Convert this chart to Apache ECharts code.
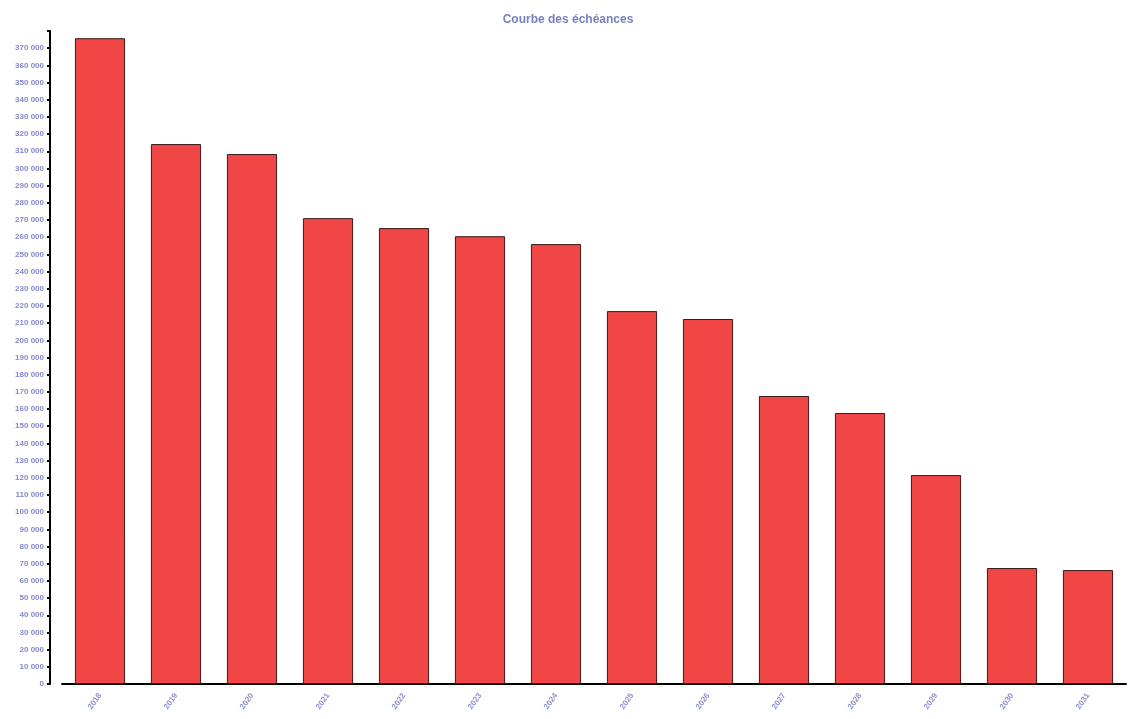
<!DOCTYPE html>
<html>
<head>
<meta charset="utf-8">
<style>html,body{margin:0;padding:0;background:#fff;}#c{width:1136px;height:719px;}</style>
<script src="https://cdn.jsdelivr.net/npm/echarts@6/dist/echarts.min.js"></script>
</head>
<body>
<div id="c"></div>
<script>
var titleText = 'Courbe des échéances';
var categories = ['2018','2019','2020','2021','2022','2023','2024','2025','2026','2027','2028','2029','2030','2031'];
var values = [375800, 314200, 308400, 271100, 265300, 260600, 256000, 217000, 212400, 167600, 157700, 121600, 67500, 66300];
var yMax = 380000;
var yStep = 10000;

function fmt(v){
  if (v >= yMax) return '';
  var s = String(v);
  return s.replace(/\B(?=(\d{3})+(?!\d))/g, ' ');
}

var chart = echarts.init(document.getElementById('c'), null, {renderer:'canvas'});
chart.setOption({
  animation:false,
  backgroundColor:'#ffffff',
  title:{
    text:titleText, left:'center', top:9,
    textStyle:{color:'#7b80bf', fontSize:12, fontWeight:'bold', fontFamily:'Liberation Sans, Arial, sans-serif'}
  },
  grid:{left:62, right:10, top:31, bottom:35, containLabel:false},
  xAxis:{
    type:'category', data:categories,
    axisLine:{lineStyle:{color:'#000', width:2}},
    axisTick:{show:false},
    axisLabel:{rotate:55, color:'#8c8fd0', fontSize:8, fontWeight:'bold', margin:10, fontFamily:'Liberation Sans, Arial, sans-serif'}
  },
  yAxis:{
    type:'value', min:0, max:yMax, interval:yStep, offset:12,
    axisLine:{show:true, lineStyle:{color:'#000', width:2}},
    axisTick:{show:true, length:3, lineStyle:{color:'#000', width:2}},
    splitLine:{show:false},
    axisLabel:{formatter:fmt, color:'#8488cc', fontSize:8, fontWeight:'bold', margin:6, fontFamily:'Liberation Sans, Arial, sans-serif'}
  },
  series:[{
    type:'bar', data:values, barCategoryGap:'34%',
    itemStyle:{color:'#f04646', borderColor:'#3a1a1a', borderWidth:1}
  }]
});
</script>
</body>
</html>
